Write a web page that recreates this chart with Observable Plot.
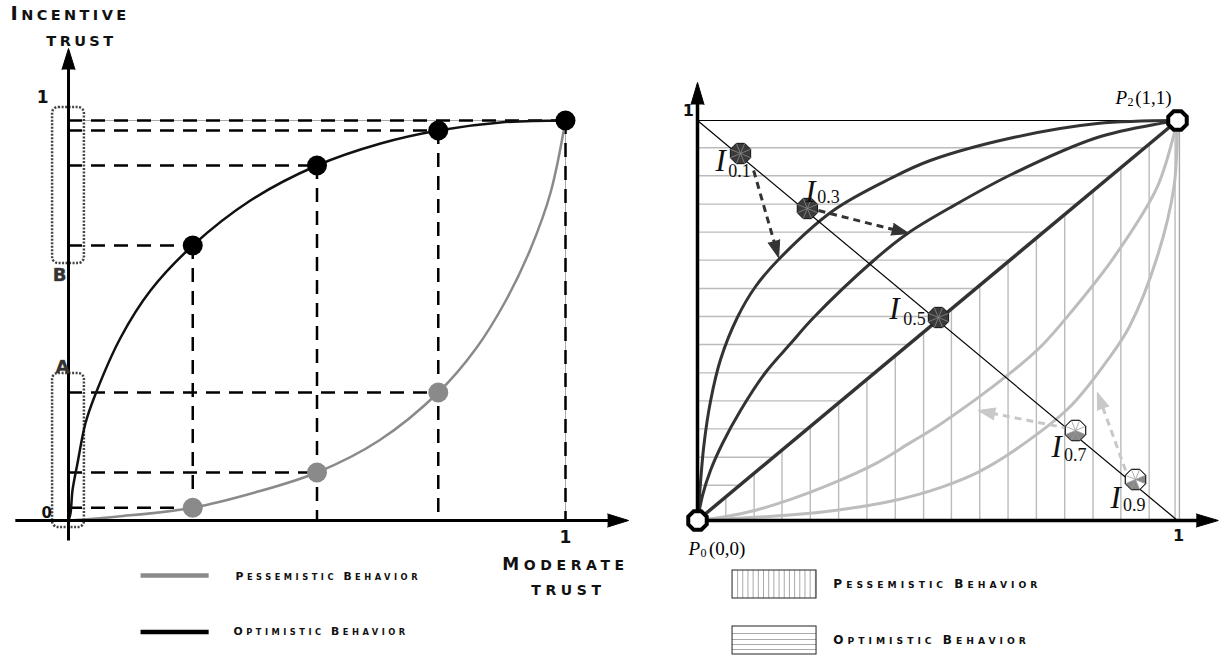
<!DOCTYPE html>
<html><head><meta charset="utf-8">
<script src="https://cdn.jsdelivr.net/npm/d3@7"></script>
<script src="https://cdn.jsdelivr.net/npm/@observablehq/plot@0.6"></script>
<style>
html,body{margin:0;padding:0;background:#fff;}
#wrap{display:flex;width:1219px;height:659px;overflow:hidden;}
#wrap svg{display:block;flex:0 0 auto;max-width:none !important;}
text[aria-label="capsBig"]{letter-spacing:3.4px;}
text[aria-label="capsMod"]{letter-spacing:4.6px;}
text[aria-label="capsLeg"]{letter-spacing:3.5px;}
text[aria-label="capsLegR"]{letter-spacing:4px;}
</style></head><body><div id="wrap"></div>
<script>
// ================= DATA : left panel =================
const optCurveX = [0,0.004,0.008,0.018,0.034,0.054,0.105,0.165,0.25,0.366,0.5,0.628,0.744,0.869,1];
const optCurveY = [0,0.0175,0.075,0.1425,0.2425,0.315,0.4575,0.575,0.6875,0.8,0.8875,0.9425,0.975,0.995,1];
const pesCurveX = [0,0.1,0.25,0.375,0.5,0.625,0.744,0.82,0.88,0.93,0.97,1];
const pesCurveY = [0,0.01,0.032,0.07,0.12,0.2,0.32,0.43,0.55,0.68,0.82,1];
const sampleX    = [0.25,0.5,0.744,1];
const optSampleY = [0.6875,0.8875,0.975,1];
const pesSampleX = [0.25,0.5,0.744];
const pesSampleY = [0.032,0.12,0.32];
const zoneLabels = ["A","B"];
const zoneLow  = [-0.0175,0.6425];
const zoneHigh = [0.3675,1.0325];

// ================= DATA : right panel =================
const optOuterX = [0,0.004,0.013,0.027,0.048,0.083,0.121,0.173,0.283,0.402,0.485,0.658,0.833,1];
const optOuterY = [0,0.06,0.185,0.2975,0.4025,0.5075,0.585,0.6575,0.775,0.855,0.9,0.9575,0.9925,1];
const optInnerX = [0,0.0104,0.027,0.052,0.0896,0.1417,0.194,0.242,0.367,0.4375,0.527,0.658,0.833,0.971,1];
const optInnerY = [0,0.0625,0.125,0.1925,0.275,0.37,0.4425,0.5075,0.65,0.7175,0.7825,0.8675,0.9575,0.994,1];
const pesOuterX = [0,0.06,0.185,0.2975,0.4025,0.5075,0.585,0.6575,0.775,0.855,0.9,0.9575,0.9925,1];
const pesOuterY = [0,0.004,0.013,0.027,0.048,0.083,0.121,0.173,0.283,0.402,0.485,0.658,0.833,1];
const pesInnerX = [0,0.0625,0.125,0.1925,0.275,0.37,0.4425,0.5075,0.65,0.7175,0.7825,0.8675,0.9575,0.994,1];
const pesInnerY = [0,0.0104,0.027,0.052,0.0896,0.1417,0.194,0.242,0.367,0.4375,0.527,0.658,0.833,0.971,1];
const hatchRowsY = [0.932,0.862,0.791,0.721,0.651,0.580,0.510,0.440,0.369,0.299,0.229,0.158,0.088];
const hatchColsX = [0.059,0.118,0.176,0.235,0.294,0.353,0.412,0.471,0.529,0.588,0.647,0.706,0.765,0.824,0.882,0.941,0.995];
const indexNames = ["0.1","0.3","0.5","0.7","0.9"];
const indexX = [0.0896,0.229,0.502,0.7875,0.9125];
const indexY = [0.9175,0.78,0.5075,0.225,0.1025];
const arrowFromX = [0.117,0.252,0.773,0.892];
const arrowFromY = [0.875,0.775,0.23,0.125];
const arrowToX   = [0.169,0.44,0.585,0.833];
const arrowToY   = [0.6575,0.7175,0.275,0.32];
const arrowKind  = ["opt","opt","pes","pes"];

// ================= layout =================
const H = 659, W1 = 640, W2 = 579;
const KXL = 497, KXR = 480, KY = 400;
const yDom = [(520 - H) / KY, 520 / KY];
const zip = (xs, ys) => xs.map((x, i) => ({x, y: ys[i]}));
const rot = (kx, x1, y1, x2, y2) => Math.atan2((x2 - x1) * kx, (y2 - y1) * KY) * 180 / Math.PI;

function octPts(r){ const p=[]; for(let k=0;k<8;k++){const a=Math.PI/8+k*Math.PI/4; p.push([r*Math.cos(a), r*Math.sin(a)]);} return p; }
const octagon = {draw(ctx,size){ const p=octPts(Math.sqrt(size/Math.PI)); ctx.moveTo(...p[0]); for(let k=1;k<8;k++) ctx.lineTo(...p[k]); ctx.closePath(); }};
const spokes = {draw(ctx,size){ const p=octPts(Math.sqrt(size/Math.PI)); for(const q of p){ ctx.moveTo(0,0); ctx.lineTo(...q);} }};
const wedges = (list) => ({draw(ctx,size){ const p=octPts(Math.sqrt(size/Math.PI)); for(const k of list){ ctx.moveTo(0,0); ctx.lineTo(...p[k%8]); ctx.lineTo(...p[(k+1)%8]); ctx.closePath(); } }});

const capsFont = {fontFamily:"DejaVu Sans", fontWeight:"bold", fill:"#111"};

// ================= LEFT PANEL =================
const hDash = sampleX.map((x,i)=>({x, y: optSampleY[i]})).concat(pesSampleX.map((x,i)=>({x, y: pesSampleY[i]})));
const vDash = sampleX.map((x,i)=>({x, y: optSampleY[i]}));
const zones = zoneLabels.map((t,i)=>({t, lo: zoneLow[i], hi: zoneHigh[i]}));

const left = Plot.plot({
  width: W1, height: H, margin: 0,
  x: {domain: [-68/KXL, (W1-68)/KXL], axis: null},
  y: {domain: yDom, axis: null},
  marks: [
    Plot.ruleY([1], {x1: 0, x2: 1, stroke: "#aaa", strokeWidth: 1}),
    Plot.ruleX([1], {y1: 0, y2: 1, stroke: "#aaa", strokeWidth: 1}),
    Plot.ruleY(hDash, {y: "y", x1: 0, x2: "x", stroke: "#000", strokeWidth: 2.5, strokeDasharray: "14,9"}),
    Plot.ruleX(vDash, {x: "x", y1: "y", y2: 0, stroke: "#000", strokeWidth: 2.5, strokeDasharray: "14,9"}),
    Plot.rect(zones, {x1: -0.032, x2: 0.032, y1: "lo", y2: "hi", rx: 6, fill: "none", stroke: "#444", strokeWidth: 2.5, strokeDasharray: "2,1.5"}),
    Plot.line(zip(pesCurveX, pesCurveY), {x: "x", y: "y", stroke: "#8a8a8a", strokeWidth: 2.5, curve: "catmull-rom"}),
    Plot.line(zip(optCurveX, optCurveY), {x: "x", y: "y", stroke: "#111", strokeWidth: 2.5, curve: "catmull-rom"}),
    // axes
    Plot.link([{x1:0,y1:-0.05,x2:0,y2:1.14},{x1:-0.107,y1:0,x2:1.1,y2:0}], {x1:"x1",y1:"y1",x2:"x2",y2:"y2", stroke:"#000", strokeWidth:3}),
    Plot.vector([{x:0,y:1.18,r:0},{x:1.127,y:0,r:90}], {x:"x", y:"y", rotate:"r", length: 21, r: 6.5, shape:"spike", anchor:"end", fill:"#000", stroke:"#000", strokeWidth:1}),
    Plot.dot(zip(pesSampleX, pesSampleY), {x:"x", y:"y", r: 10, fill:"#8a8a8a", stroke:"none"}),
    Plot.dot(zip(sampleX, optSampleY), {x:"x", y:"y", r: 10, fill:"#000", stroke:"none"}),
    // tick labels
    Plot.text(["1"], {x: -0.052, y: 1.0575, text: d=>d, fontSize: 17, fontFamily:"DejaVu Sans", fontWeight:"bold", fill:"#111"}),
    Plot.text(["0"], {x: -0.044, y: 0.0175, text: d=>d, fontSize: 15, fontFamily:"DejaVu Sans", fontWeight:"bold", fill:"#111"}),
    Plot.text(["1"], {x: 1, y: -0.0425, text: d=>d, fontSize: 17, fontFamily:"DejaVu Sans", fontWeight:"bold", fill:"#111"}),
    Plot.text([{t:"A",x:-0.012,y:0.3825},{t:"B",x:-0.018,y:0.6125}], {x:"x", y:"y", text:"t", fontSize: 18, fontFamily:"DejaVu Sans", fontWeight:"bold", fill:"#333", stroke:"#777", strokeWidth:0.5}),
    // axis titles
    Plot.text([{t:"Incentive",x:-0.1167,y:1.2625}], {x:"x",y:"y",text:"t", textAnchor:"start", fontSize:14.5, ...capsFont, ariaLabel: ()=>"capsBig"}),
    Plot.text([{t:"trust",x:0.026,y:1.1975}], {x:"x",y:"y",text:"t", fontSize:14.5, ...capsFont, ariaLabel: ()=>"capsBig"}),
    Plot.text([{t:"Moderate",x:1.0,y:-0.1125},{t:"trust",x:1.006,y:-0.1745}], {x:"x",y:"y",text:"t", fontSize:14, ...capsFont, ariaLabel: ()=>"capsMod"}),
    // legend
    Plot.link([{y:-0.1375}], {x1:0.145, x2:0.282, y1:"y", y2:"y", stroke:"#8a8a8a", strokeWidth:4.5}),
    Plot.link([{y:-0.279}], {x1:0.145, x2:0.282, y1:"y", y2:"y", stroke:"#000", strokeWidth:4.5}),
    Plot.text([{t:"Pessemistic Behavior",x:0.336,y:-0.1425},{t:"Optimistic Behavior",x:0.332,y:-0.28}], {x:"x",y:"y",text:"t", textAnchor:"start", fontSize:8.3, ...capsFont, ariaLabel: ()=>"capsLeg"})
  ]
});

// ================= RIGHT PANEL =================
const idx = indexNames.map((n,i)=>({n, x: indexX[i], y: indexY[i]}));
const arrows = arrowKind.map((k,i)=>{
  const x1=arrowFromX[i], y1=arrowFromY[i], x2=arrowToX[i], y2=arrowToY[i];
  const dxp=(x2-x1)*KXR, dyp=(y2-y1)*KY, L=Math.hypot(dxp,dyp), s=(L-9)/L;
  return {k, x1, y1, x2, y2, xe: x1+(x2-x1)*s, ye: y1+(y2-y1)*s, r: rot(KXR,x1,y1,x2,y2)};
});
const optA = arrows.filter(a=>a.k==="opt"), pesA = arrows.filter(a=>a.k==="pes");
// label layout (positions of the I and subscript texts)
const labI = [[0.048,0.8975],[0.235,0.82],[0.41,0.5275],[0.748,0.1825],[0.871,0.055]];
const labS = [[0.0875,0.8725],[0.273,0.8075],[0.452,0.503],[0.787,0.1625],[0.91,0.0375]];
const darkIdx = idx.slice(0,3), lightIdx = idx.slice(3);
const serif = {fontFamily:"Liberation Serif"};
const legY1 = [-0.125,-0.195], legY2 = [-0.265,-0.335];
const legCols = d3.range(0.0835, 0.246, 0.0108);
const legRows = [-0.2825,-0.2975,-0.31,-0.3225];

const right = Plot.plot({
  width: W2, height: H, margin: 0,
  x: {domain: [-57/KXR, (W2-57)/KXR], axis: null},
  y: {domain: yDom, axis: null},
  marks: [
    Plot.ruleY(hatchRowsY, {y: d=>d, x1: 0, x2: d=>d, stroke:"#bbb", strokeWidth:1.4}),
    Plot.ruleX(hatchColsX, {x: d=>d, y1: 0, y2: d=>d, stroke:"#bbb", strokeWidth:1.4}),
    Plot.ruleY([1], {x1: 0, x2: 1, stroke:"#000", strokeWidth:1.2}),
    Plot.ruleX([1.004], {y1: 0, y2: 1, stroke:"#aaa", strokeWidth:1.4}),
    Plot.line(zip(pesOuterX, pesOuterY), {x:"x", y:"y", stroke:"#bdbdbd", strokeWidth:3, curve:"catmull-rom"}),
    Plot.line(zip(pesInnerX, pesInnerY), {x:"x", y:"y", stroke:"#bdbdbd", strokeWidth:3, curve:"catmull-rom"}),
    Plot.line(zip(optOuterX, optOuterY), {x:"x", y:"y", stroke:"#333", strokeWidth:3, curve:"catmull-rom"}),
    Plot.line(zip(optInnerX, optInnerY), {x:"x", y:"y", stroke:"#333", strokeWidth:3, curve:"catmull-rom"}),
    Plot.link([{a:0}], {x1:0, y1:0, x2:1, y2:1, stroke:"#333", strokeWidth:3.5}),
    Plot.link([{a:0}], {x1:0, y1:1, x2:1, y2:0, stroke:"#000", strokeWidth:1.2}),
    // axes
    Plot.link([{x1:0,y1:0,x2:0,y2:1.05},{x1:0,y1:0,x2:1.06,y2:0}], {x1:"x1",y1:"y1",x2:"x2",y2:"y2", stroke:"#000", strokeWidth:3.5}),
    Plot.vector([{x:0,y:1.095,r:0},{x:1.085,y:0,r:90}], {x:"x", y:"y", rotate:"r", length: 22, r: 6.5, shape:"spike", anchor:"end", fill:"#000", stroke:"#000", strokeWidth:1}),
    // dashed arrows
    Plot.link(optA, {x1:"x1", y1:"y1", x2:"xe", y2:"ye", stroke:"#333", strokeWidth:3, strokeDasharray:"7,5"}),
    Plot.link(pesA, {x1:"x1", y1:"y1", x2:"xe", y2:"ye", stroke:"#c8c8c8", strokeWidth:3, strokeDasharray:"7,5"}),
    Plot.vector(optA, {x:"x2", y:"y2", rotate:"r", length: 17, r: 6, shape:"spike", anchor:"end", fill:"#333", stroke:"#333", strokeWidth:1}),
    Plot.vector(pesA, {x:"x2", y:"y2", rotate:"r", length: 17, r: 6, shape:"spike", anchor:"end", fill:"#c8c8c8", stroke:"#c8c8c8", strokeWidth:1}),
    // index markers
    Plot.dot(darkIdx, {x:"x", y:"y", r: 11, symbol: octagon, fill:"#3a3a3a", stroke:"#111", strokeWidth:1}),
    Plot.dot(darkIdx, {x:"x", y:"y", r: 11, symbol: spokes, fill:"none", stroke:"#8a8a8a", strokeWidth:0.8}),
    Plot.dot(lightIdx, {x:"x", y:"y", r: 11, symbol: octagon, fill:"#fff", stroke:"#222", strokeWidth:1}),
    Plot.dot(lightIdx.slice(0,1), {x:"x", y:"y", r: 11, symbol: wedges([0,2,1]), fill:"#888", stroke:"none"}),
    Plot.dot(lightIdx.slice(1), {x:"x", y:"y", r: 11, symbol: wedges([7,1,2]), fill:"#888", stroke:"none"}),
    Plot.dot(lightIdx, {x:"x", y:"y", r: 11, symbol: spokes, fill:"none", stroke:"#999", strokeWidth:0.8}),
    Plot.dot(lightIdx, {x:"x", y:"y", r: 11, symbol: octagon, fill:"none", stroke:"#222", strokeWidth:1}),
    // end points
    Plot.dot([{x:0,y:0},{x:1,y:1}], {x:"x", y:"y", r: 10, symbol: octagon, fill:"#fff", stroke:"#000", strokeWidth:4}),
    // labels
    Plot.text(idx, {x:(d,i)=>labI[i][0], y:(d,i)=>labI[i][1], text: ()=>"I", fontSize: 31, fontStyle:"italic", ...serif, fill:"#111"}),
    Plot.text(idx, {x:(d,i)=>labS[i][0], y:(d,i)=>labS[i][1], text: "n", fontSize: 18, ...serif, fill:"#111"}),
    Plot.text(["P"], {x:-0.019, y:-0.07, text:d=>d, textAnchor:"start", fontSize:19, fontStyle:"italic", ...serif}),
    Plot.text(["0"], {x:0.006, y:-0.0825, text:d=>d, textAnchor:"start", fontSize:12, ...serif}),
    Plot.text(["(0,0)"], {x:0.024, y:-0.07, text:d=>d, textAnchor:"start", fontSize:19, ...serif}),
    Plot.text(["P"], {x:0.871, y:1.0575, text:d=>d, textAnchor:"start", fontSize:19, fontStyle:"italic", ...serif}),
    Plot.text(["2"], {x:0.896, y:1.045, text:d=>d, textAnchor:"start", fontSize:12, ...serif}),
    Plot.text(["(1,1)"], {x:0.912, y:1.0575, text:d=>d, textAnchor:"start", fontSize:19, ...serif}),
    Plot.text(["1"], {x:-0.019, y:1.025, text:d=>d, fontSize:16, fontFamily:"DejaVu Sans", fontWeight:"bold", fill:"#111"}),
    Plot.text(["1"], {x:1.002, y:-0.0375, text:d=>d, fontSize:16, fontFamily:"DejaVu Sans", fontWeight:"bold", fill:"#111"}),
    // legend
    Plot.ruleX(legCols, {x:d=>d, y1:legY1[0], y2:legY1[1], stroke:"#aaa", strokeWidth:1}),
    Plot.ruleY(legRows, {y:d=>d, x1:0.073, x2:0.248, stroke:"#aaa", strokeWidth:1}),
    Plot.rect([legY1, legY2], {x1:0.073, x2:0.248, y1:d=>d[0], y2:d=>d[1], fill:"none", stroke:"#222", strokeWidth:1}),
    Plot.text([{t:"Pessemistic Behavior",y:-0.1625},{t:"Optimistic Behavior",y:-0.3025}], {x:0.283, y:"y", text:"t", textAnchor:"start", fontSize:9.2, ...capsFont, ariaLabel: ()=>"capsLegR"})
  ]
});

// small-caps rendering: capital letters large, lower-case letters as smaller capitals
function smallCaps(svg, label, big, small){
  svg.querySelectorAll(`text[aria-label="${label}"]`).forEach(t => {
    const s = t.textContent; t.textContent = "";
    for (const run of s.match(/[A-Z]+|[^A-Z]+/g)) {
      const ts = document.createElementNS("http://www.w3.org/2000/svg", "tspan");
      ts.setAttribute("font-size", /[A-Z]/.test(run[0]) ? big : small);
      ts.textContent = run.toUpperCase();
      t.appendChild(ts);
    }
  });
}
smallCaps(left, "capsBig", 19.5, 14.5);
smallCaps(left, "capsMod", 17, 14);
smallCaps(left, "capsLeg", 10.8, 8.3);
smallCaps(right, "capsLegR", 12, 9.2);

const wrap = document.getElementById("wrap");
wrap.appendChild(left);
wrap.appendChild(right);
</script>
</body></html>
